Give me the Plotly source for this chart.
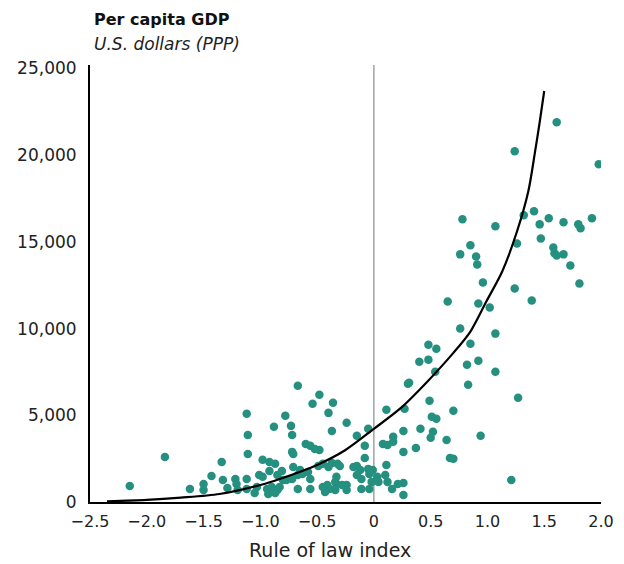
import plotly.graph_objects as go

# Scatter: rule of law index vs per capita GDP (US$ PPP)
rule_of_law = [
    -2.15, -1.84, -1.62, -1.50, -1.50, -1.43, -1.34, -1.33, -1.22, -1.21, -1.29, -1.12, -1.11, -1.11, -1.12,
    -1.20, -1.12, -1.05, -1.01, -0.67, -0.48, -0.54, -0.36, -0.40, -0.78, -0.73, -0.88, -0.72, -0.24, -0.37,
    -0.15, -0.08, -0.05, -0.60, -0.52, -0.48, -0.72, -0.71, -0.08, -0.98, -0.92, -0.87, -0.92, -0.81, -0.71,
    -0.65, -0.49, -0.37, -0.32, -0.30, -0.15, -0.12, -0.05, 0.11, 0.27, 0.30, 0.26, 0.17, 0.08, 0.12,
    0.17, 0.26, -0.98, -1.03, -0.94, -0.89, -0.83, -0.87, -0.93, -0.77, -0.72, -0.67, -0.56, -0.56, -0.45,
    -0.41, -0.39, -0.34, -0.43, -0.33, -0.34, -0.24, -0.24, -0.15, -0.11, -0.11, -0.04, -0.01, 0.03, 0.04,
    -0.02, -0.04, 0.10, 0.12, 0.16, 0.11, 0.21, 0.26, 0.26, -0.18, -0.85, -0.80, -0.67, -0.63, -0.58,
    -0.45, -0.40, -0.56, -0.85, -0.90, -0.28, -0.33,
    0.65, 0.92, 1.02, 0.76, 0.85, 1.07, 0.48, 0.55, 0.40, 0.48, 0.54, 0.82, 0.92, 1.07, 0.31,
    0.83, 0.49, 0.51, 0.55, 0.70, 0.41, 0.52, 0.50, 0.64, 0.94, 0.37, 0.67, 0.70, 1.21, 1.39,
    1.27, 1.24, 1.81, 1.61, 1.24, 1.98, 0.78, 1.07, 1.32, 1.41, 1.54, 1.46, 1.67, 1.80, 1.82,
    1.92, 0.85, 0.76, 0.90, 0.91, 1.26, 1.47, 1.58, 1.59, 1.61, 1.67, 1.73, 0.96,
]
gdp_per_capita = [
    925, 2600, 750, 1040, 690, 1500, 2310, 1270, 1330, 1040, 810, 5090, 3870, 2770, 1330,
    690, 750, 520, 1560, 6700, 6180, 5660, 5720, 5140, 4970, 4390, 4340, 3870, 4570, 4100,
    3820, 3240, 4220, 3350, 3060, 3000, 2890, 2770, 2540, 2430, 2310, 2200, 1790, 1790, 2020,
    1850, 2080, 2250, 2200, 2080, 2080, 1850, 1910, 5320, 5380, 6820, 4100, 3760, 3350, 3290,
    3470, 2890, 1450, 870, 750, 690, 870, 520, 460, 1270, 1330, 750, 1330, 750, 870,
    980, 750, 690, 580, 1450, 1160, 980, 690, 1560, 1330, 750, 1620, 1850, 1450, 1160,
    1160, 750, 1560, 1160, 750, 2140, 1040, 1100, 400, 2020, 1560, 1270, 1560, 1620, 1730,
    2200, 2020, 3240, 690, 870, 980, 1040,
    11560, 11450, 11210, 10000, 9130, 9710, 9070, 8840, 8090, 8210, 7510, 7920, 8150, 7510, 6880,
    6760, 5840, 4910, 4800, 5260, 4220, 4050, 3700, 3580, 3820, 3120, 2540, 2490, 1270, 11620,
    6010, 12310, 12600, 21900, 20230, 19480, 16300, 15900, 16530, 16760, 16360, 16010, 16130, 16010, 15780,
    16360, 14800, 14280, 14160, 13700, 14910, 15200, 14680, 14340, 14220, 14280, 13640, 12660,
]

# Fitted trend curve
curve_x = [-2.35, -2.0, -1.7, -1.36, -1.0, -0.83, -0.5, -0.25, 0.0, 0.23, 0.47, 0.70, 0.85,
           0.99, 1.13, 1.26, 1.36, 1.42, 1.46, 1.50]
curve_y = [40, 120, 250, 460, 980, 1330, 2140, 3000, 4220, 5380, 6940, 8600, 9830,
           11560, 13290, 15600, 17920, 20230, 21900, 23700]

x_ticks = [-2.5, -2.0, -1.5, -1.0, -0.5, 0, 0.5, 1.0, 1.5, 2.0]
x_tick_labels = ["\u22122.5", "\u22122.0", "\u22121.5", "\u22121.0", "\u22120.5", "0", "0.5", "1.0", "1.5", "2.0"]
y_ticks = [0, 5000, 10000, 15000, 20000, 25000]
y_tick_labels = ["0", "5,000", "10,000", "15,000", "20,000", "25,000"]

FONT = "DejaVu Sans"
TEAL = "#25907f"

fig = go.Figure()
fig.add_trace(go.Scatter(
    x=rule_of_law, y=gdp_per_capita, mode="markers",
    marker=dict(color=TEAL, size=8.5, line=dict(width=0)),
    hoverinfo="x+y", showlegend=False,
))
fig.add_trace(go.Scatter(
    x=curve_x, y=curve_y, mode="lines",
    line=dict(color="black", width=2.2, shape="spline", smoothing=0.8),
    hoverinfo="skip", showlegend=False,
))

fig.add_shape(type="line", xref="x", yref="paper", x0=0, x1=0, y0=0, y1=1,
              line=dict(color="#8a8a8a", width=1.2), layer="below")

fig.update_layout(
    width=624, height=564,
    margin=dict(l=90, r=23, t=65, b=62),
    paper_bgcolor="white", plot_bgcolor="white",
    font=dict(family=FONT, size=15, color="#222"),
    xaxis=dict(
        range=[-2.5, 2.0], tickvals=x_ticks, ticktext=x_tick_labels, automargin=False,
        showgrid=False, zeroline=False, showline=True, linecolor="black", linewidth=2,
        ticks="outside", ticklen=4, tickcolor="rgba(0,0,0,0)",
        tickfont=dict(family=FONT, size=16, color="#222"),
    ),
    yaxis=dict(
        range=[0, 25200], tickvals=y_ticks, ticktext=y_tick_labels, automargin=False,
        showgrid=False, zeroline=False, showline=True, linecolor="black", linewidth=2,
        ticks="outside", ticklen=8, tickcolor="rgba(0,0,0,0)",
        tickfont=dict(family=FONT, size=17, color="#222"),
    ),
    annotations=[
        dict(text="<b>Per capita GDP</b>", xref="paper", yref="paper",
             x=0.004, y=1.103, xanchor="left", yanchor="middle", showarrow=False,
             font=dict(family=FONT, size=16, color="#111")),
        dict(text="<i>U.S. dollars (PPP)</i>", xref="paper", yref="paper",
             x=0.004, y=1.048, xanchor="left", yanchor="middle", showarrow=False,
             font=dict(family=FONT, size=17, color="#222")),
        dict(text="Rule of law index", xref="paper", yref="paper",
             x=0.47, y=-0.1098, xanchor="center", yanchor="middle", showarrow=False,
             font=dict(family=FONT, size=19, color="#222")),
    ],
)

fig.write_html(
    "out.html",
    config={"displayModeBar": False},
    post_script="document.body.style.margin='0';document.body.style.padding='0';",
)
